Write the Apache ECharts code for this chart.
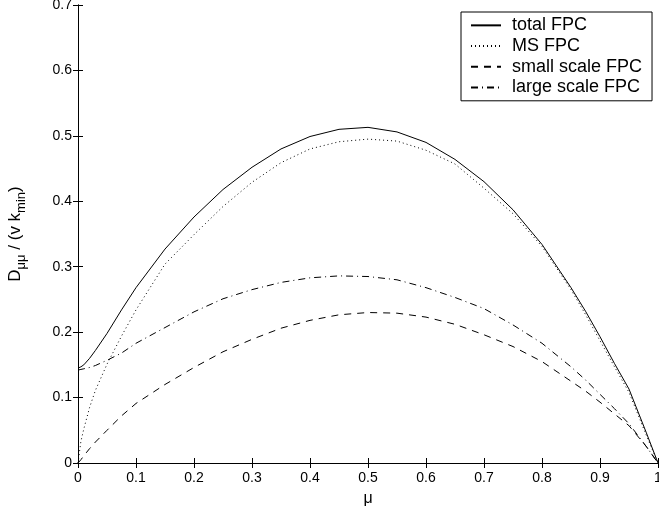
<!DOCTYPE html>
<html>
<head>
<meta charset="utf-8">
<script src="https://cdn.jsdelivr.net/npm/echarts@6/dist/echarts.min.js"></script>
<style>html,body{margin:0;padding:0;background:#fff}#c{width:659px;height:510px}</style>
</head>
<body>
<div id="c"></div>
<script>
var mu      = [0, 0.005, 0.01, 0.02, 0.03, 0.05, 0.075, 0.1, 0.15, 0.2, 0.25, 0.3, 0.35, 0.4, 0.45, 0.5, 0.55, 0.6, 0.65, 0.7, 0.75, 0.8, 0.85, 0.875, 0.9, 0.925, 0.95, 0.98, 1.0];
var totalFPC = [0.145, 0.147, 0.150, 0.160, 0.172, 0.198, 0.234, 0.268, 0.327, 0.376, 0.418, 0.452, 0.480, 0.499, 0.510, 0.513, 0.506, 0.490, 0.464, 0.430, 0.387, 0.334, 0.268, 0.232, 0.193, 0.152, 0.113, 0.046, 0];
var msFPC    = [0, 0.033, 0.052, 0.085, 0.111, 0.151, 0.194, 0.234, 0.304, 0.349, 0.392, 0.429, 0.459, 0.480, 0.491, 0.495, 0.492, 0.478, 0.457, 0.420, 0.381, 0.331, 0.265, 0.227, 0.187, 0.147, 0.108, 0.042, 0];
var smallFPC = [0, 0.005, 0.011, 0.022, 0.032, 0.050, 0.072, 0.091, 0.120, 0.146, 0.170, 0.189, 0.206, 0.218, 0.2265, 0.230, 0.229, 0.223, 0.212, 0.196, 0.178, 0.155, 0.125, 0.110, 0.093, 0.075, 0.057, 0.025, 0];
var largeFPC = [0.142, 0.143, 0.144, 0.146, 0.149, 0.157, 0.168, 0.183, 0.207, 0.231, 0.251, 0.265, 0.276, 0.283, 0.286, 0.285, 0.280, 0.268, 0.253, 0.236, 0.211, 0.183, 0.147, 0.127, 0.105, 0.083, 0.060, 0.025, 0];
var seriesNames = ['total FPC', 'MS FPC', 'small scale FPC', 'large scale FPC'];
var xTicks = [0, 0.1, 0.2, 0.3, 0.4, 0.5, 0.6, 0.7, 0.8, 0.9, 1];
var yTicks = [0, 0.1, 0.2, 0.3, 0.4, 0.5, 0.6, 0.7];

function pairs(ys){ return mu.map(function(x,i){ return [x, ys[i]]; }); }

var FONT = 'Liberation Sans, Arial, Helvetica, sans-serif';
var chart = echarts.init(document.getElementById('c'), null, {renderer:'canvas'});
var axisCommon = {
  type:'value',
  axisLine:{show:true, lineStyle:{color:'#000', width:1}},
  axisTick:{show:true, inside:true, length:5, lineStyle:{color:'#000'}},
  splitLine:{show:false}
};
function mk(name, data, type, z){
  return {name:name, type:'line', data:pairs(data), showSymbol:false, symbol:'none',
    smooth:false,
    itemStyle:{color:'#000'},
    lineStyle:{color:'#000', width:1, type:type}, z:z, animation:false};
}
chart.setOption({
  animation:false,
  backgroundColor:'#fff',
  grid:{left:78, top:5, width:580, height:458, containLabel:false, outerBoundsMode:'none'},
  xAxis:[
    Object.assign({}, axisCommon, {min:0, max:1, interval:0.1, position:'bottom',
      axisLabel:{color:'#000', fontSize:14, fontFamily:FONT, margin:8,
        formatter:function(v){ return String(Math.round(v*10)/10); }},
      name:'μ', nameLocation:'middle', nameGap:28,
      nameTextStyle:{color:'#000', fontSize:16, fontFamily:FONT}}),
    Object.assign({}, axisCommon, {min:0, max:1, interval:0.1, position:'top', axisLabel:{show:false}})
  ],
  yAxis:[
    Object.assign({}, axisCommon, {min:0, max:0.7, interval:0.1, position:'left',
      axisLabel:{color:'#000', fontSize:14, fontFamily:FONT, margin:6, padding:[2,0,0,0],
        formatter:function(v){ return String(Math.round(v*10)/10); }},
      name:'{a|D}{s|μμ}{a| / (v k}{s|min}{a|)}', nameLocation:'middle', nameGap:50, nameRotate:90,
      nameTextStyle:{color:'#000', fontFamily:FONT,
        rich:{a:{fontSize:17, fontFamily:FONT, color:'#000', lineHeight:26, verticalAlign:'middle'},
              s:{fontSize:13, fontFamily:FONT, color:'#000', lineHeight:13, verticalAlign:'bottom'}}}}),
    Object.assign({}, axisCommon, {min:0, max:0.7, interval:0.1, position:'right', axisLabel:{show:false}})
  ],
  legend:{
    orient:'vertical', left:461, top:12,
    data:seriesNames,
    backgroundColor:'#fff', borderColor:'#000', borderWidth:1, borderRadius:0,
    padding:[3,10,3,9], itemGap:0, itemWidth:30, itemHeight:14,
    itemStyle:{opacity:0},
    textStyle:{color:'#000', fontSize:18, fontFamily:FONT, lineHeight:20.7, padding:[0,0,0,6]},
    selectedMode:false
  },
  series:[
    mk(seriesNames[0], totalFPC, 'solid', 4),
    mk(seriesNames[1], msFPC, [1,3], 3),
    mk(seriesNames[2], smallFPC, [7,6], 2),
    mk(seriesNames[3], largeFPC, [7,4,1,4], 1)
  ]
});
</script>
</body>
</html>
